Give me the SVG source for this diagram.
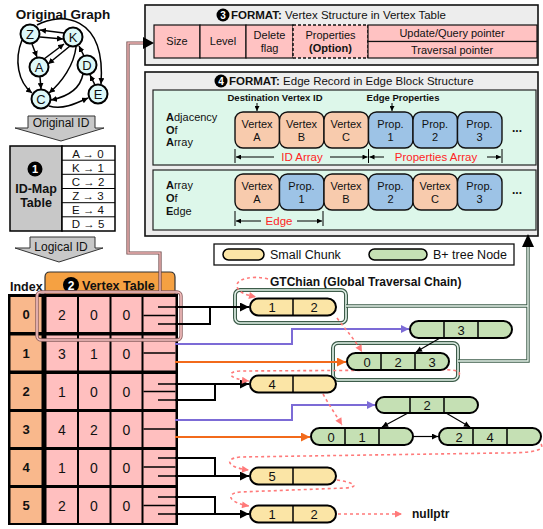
<svg xmlns="http://www.w3.org/2000/svg" width="543" height="529" viewBox="0 0 543 529">
<defs>
<marker id="ag" viewBox="0 0 10 10" refX="10" refY="5" markerUnits="userSpaceOnUse" markerWidth="6" markerHeight="6" orient="auto"><path d="M0,0 L10,5 L0,10 z" fill="#000"/></marker>
<marker id="ab" viewBox="0 0 10 10" refX="10" refY="5" markerUnits="userSpaceOnUse" markerWidth="10" markerHeight="9" orient="auto"><path d="M0,0 L10,5 L0,10 z" fill="#000"/></marker>
<marker id="as" viewBox="0 0 10 10" refX="10" refY="5" markerUnits="userSpaceOnUse" markerWidth="7" markerHeight="6" orient="auto"><path d="M0,0 L10,5 L0,10 z" fill="#000"/></marker>
<marker id="ap" viewBox="0 0 10 10" refX="10" refY="5" markerUnits="userSpaceOnUse" markerWidth="8" markerHeight="7" orient="auto"><path d="M0,0 L10,5 L0,10 z" fill="#FF7A7A"/></marker>
<marker id="apu" viewBox="0 0 10 10" refX="10" refY="5" markerUnits="userSpaceOnUse" markerWidth="9" markerHeight="8" orient="auto"><path d="M0,0 L10,5 L0,10 z" fill="#7C6BD6"/></marker>
<marker id="aor" viewBox="0 0 10 10" refX="10" refY="5" markerUnits="userSpaceOnUse" markerWidth="10" markerHeight="9" orient="auto"><path d="M0,0 L10,5 L0,10 z" fill="#F26A1B"/></marker>
<marker id="ad" viewBox="0 0 10 10" refX="10" refY="5" markerUnits="userSpaceOnUse" markerWidth="6" markerHeight="5" orient="auto-start-reverse"><path d="M0,0 L10,5 L0,10 z" fill="#000"/></marker>
</defs>
<style>
text{font-family:"Liberation Sans",Arial,sans-serif;fill:#111}
.b{font-weight:bold}
.gn{fill:#DDF8F8;stroke:#000;stroke-width:2}
.ge{fill:none;stroke:#000;stroke-width:1.5;marker-end:url(#ag)}
.gt{font-size:13px;text-anchor:middle}
.fbox{fill:#EDEDED;stroke:#111;stroke-width:1.6}
.pc{fill:#FFC2C2;stroke:#111;stroke-width:1.2}
.pnl{fill:#DDF7EA;stroke:#222;stroke-width:1.2}
.vc{fill:#F8CBAD;stroke:#111;stroke-width:1.4}
.bc{fill:#9DC3E6;stroke:#111;stroke-width:1.4}
.ct{font-size:11px;text-anchor:middle}
.red{fill:#FF2525;font-size:11.5px;text-anchor:middle}
.dim{stroke:#000;stroke-width:1;fill:none;marker-end:url(#ad)}
.tk{stroke:#000;stroke-width:1}
.ix{fill:#F9B88C}
.vv{fill:#FFBFBF}
.num{font-size:14px;text-anchor:middle}
.ixt{font-size:13px;font-weight:bold;text-anchor:middle}
.sc{fill:#FBE5A6;stroke:#000;stroke-width:2}
.bn{fill:#C5E0B4;stroke:#000;stroke-width:2}
.dv{stroke:#000;stroke-width:1.5}
.cn{font-size:13px;text-anchor:middle}
.bl{fill:none;stroke:#000;stroke-width:2}
.pu{fill:none;stroke:#7C6BD6;stroke-width:2}
.or{fill:none;stroke:#F26A1B;stroke-width:2}
.dot{fill:none;stroke:#FF7A7A;stroke-width:1.6;stroke-dasharray:3 3}
.dbo{fill:none;stroke:#3D5C4A;stroke-width:4}
.dbi{fill:none;stroke:#E4F3EA;stroke-width:1.6}
</style>

<!-- Original graph -->
<g id="original-graph">
<text x="63" y="19" class="b" style="font-size:13.5px" text-anchor="middle">Original Graph</text>
<path class="ge" d="M64 33 L40 30"/>
<path class="ge" d="M40 37 L63 39"/>
<path class="ge" d="M37 25 C60 12, 106 14, 101 84"/>
<path class="ge" d="M32 44 L37 57"/>
<path class="ge" d="M22 40 C14 60, 18 82, 32 93"/>
<path class="ge" d="M44 59 L64 44"/>
<path class="ge" d="M70 46 L48 64"/>
<path class="ge" d="M40 77 L41 89"/>
<path class="ge" d="M76 47 C74 65, 62 82, 49 93"/>
<path class="ge" d="M84 56 L79 46"/>
<path class="ge" d="M83 74 C80 90, 66 97, 51 100"/>
<path class="ge" d="M49 106 C62 110, 75 104, 88 98"/>
<path class="ge" d="M95 85 L90 75"/>
<circle class="gn" cx="30" cy="34" r="9.5"/><text class="gt" x="30" y="38.5">Z</text>
<circle class="gn" cx="73" cy="37" r="9.5"/><text class="gt" x="73" y="41.5">K</text>
<circle class="gn" cx="39" cy="67" r="9.5"/><text class="gt" x="39" y="71.5">A</text>
<circle class="gn" cx="87" cy="65" r="9.5"/><text class="gt" x="87" y="69.5">D</text>
<circle class="gn" cx="41" cy="99" r="9.5"/><text class="gt" x="41" y="103.5">C</text>
<circle class="gn" cx="98" cy="94" r="9.5"/><text class="gt" x="98" y="98.5">E</text>
</g>

<g id="original-id-arrow">
<path d="M28 116 H95 V128 H104 L61 141 L15 128 H28 Z" fill="#C8C8C8" stroke="#333" stroke-width="1"/>
<text x="61" y="127" style="font-size:12px" text-anchor="middle">Original ID</text>
</g>

<g id="id-map-table">
<rect x="10" y="146" width="52" height="85" fill="#C8C8C8" stroke="#000" stroke-width="1.5"/>
<circle cx="35" cy="169" r="7.5" fill="#000"/>
<text x="35" y="173" class="b" style="font-size:11px;fill:#fff" text-anchor="middle">1</text>
<text x="36" y="193" class="b" style="font-size:12.5px" text-anchor="middle">ID-Map</text>
<text x="36" y="207" class="b" style="font-size:12.5px" text-anchor="middle">Table</text>
<rect x="62" y="146" width="53" height="85" fill="#fff" stroke="#000" stroke-width="1.5"/>
<path d="M62 160.2 H115 M62 174.3 H115 M62 188.5 H115 M62 202.7 H115 M62 216.8 H115" stroke="#000" stroke-width="1"/>
<g style="font-size:11.5px" text-anchor="middle">
<text x="88" y="157.5">A → 0</text>
<text x="88" y="171.5">K → 1</text>
<text x="88" y="185.7">C → 2</text>
<text x="88" y="199.9">Z → 3</text>
<text x="88" y="214">E → 4</text>
<text x="88" y="228.2">D → 5</text>
</g>
</g>

<g id="logical-id-arrow">
<path d="M30 237 H95 V248 H103 L59 262 L15 248 H30 Z" fill="#C8C8C8" stroke="#333" stroke-width="1"/>
<text x="61" y="251" style="font-size:12px" text-anchor="middle">Logical ID</text>
</g>

<!-- Format 3 -->
<g id="format-vertex-structure">
<rect class="fbox" x="145" y="5" width="393" height="60"/>
<circle cx="223" cy="15" r="6.5" fill="#000"/>
<text x="223" y="18.8" class="b" style="font-size:10px;fill:#fff" text-anchor="middle">3</text>
<text x="231" y="19" style="font-size:11.5px"><tspan class="b">FORMAT:</tspan> Vertex Structure in Vertex Table</text>
<rect class="pc" x="154" y="25" width="46" height="33"/>
<rect class="pc" x="200" y="25" width="46" height="33"/>
<rect class="pc" x="246" y="25" width="47" height="33"/>
<rect class="pc" x="293" y="25" width="75" height="33" style="stroke-dasharray:3 2;stroke-width:1.5"/>
<rect class="pc" x="368" y="25" width="169" height="16.5"/>
<rect class="pc" x="368" y="41.5" width="169" height="16.5"/>
<text class="ct" x="177" y="45">Size</text>
<text class="ct" x="223" y="45">Level</text>
<text class="ct" x="269.5" y="39">Delete</text>
<text class="ct" x="269.5" y="52">flag</text>
<text class="ct" x="330.5" y="39">Properties</text>
<text class="ct b" x="330.5" y="52">(Option)</text>
<text class="ct" x="452" y="37">Update/Query pointer</text>
<text class="ct" x="452" y="53.5">Traversal pointer</text>
</g>

<!-- Format 4 -->
<g id="format-edge-record">
<rect class="fbox" x="145" y="72" width="393" height="164"/>
<circle cx="221" cy="81" r="6.5" fill="#000"/>
<text x="221" y="84.8" class="b" style="font-size:10px;fill:#fff" text-anchor="middle">4</text>
<text x="229" y="85" style="font-size:11.5px"><tspan class="b">FORMAT:</tspan> Edge Record in Edge Block Structure</text>
<rect class="pnl" x="153" y="90" width="383" height="75"/>
<rect class="pnl" x="153" y="170" width="383" height="60"/>
<text x="166" y="121" style="font-size:11px"><tspan class="b">A</tspan>djacency</text>
<text x="166" y="134" style="font-size:11px"><tspan class="b">O</tspan>f</text>
<text x="166" y="146" style="font-size:11px"><tspan class="b">A</tspan>rray</text>
<text x="275" y="101" class="b" style="font-size:9.5px" text-anchor="middle">Destination Vertex ID</text>
<text x="403" y="101" class="b" style="font-size:9.5px" text-anchor="middle">Edge Properties</text>
<path d="M257 103 V111" stroke="#000" stroke-width="1" marker-end="url(#ad)"/>
<path d="M392 103 V111" stroke="#000" stroke-width="1" marker-end="url(#ad)"/>
<rect class="vc" x="235" y="112" width="44.5" height="36" rx="8"/>
<rect class="vc" x="279.5" y="112" width="44.5" height="36" rx="8"/>
<rect class="vc" x="324" y="112" width="44.5" height="36" rx="8"/>
<rect class="bc" x="368.5" y="112" width="44.5" height="36" rx="8"/>
<rect class="bc" x="413" y="112" width="44.5" height="36" rx="8"/>
<rect class="bc" x="457.5" y="112" width="44.5" height="36" rx="8"/>
<text class="ct" x="257" y="128">Vertex</text><text class="ct" x="257" y="141">A</text>
<text class="ct" x="301.5" y="128">Vertex</text><text class="ct" x="301.5" y="141">B</text>
<text class="ct" x="346" y="128">Vertex</text><text class="ct" x="346" y="141">C</text>
<text class="ct" x="390.5" y="128">Prop.</text><text class="ct" x="390.5" y="141">1</text>
<text class="ct" x="435" y="128">Prop.</text><text class="ct" x="435" y="141">2</text>
<text class="ct" x="479.5" y="128">Prop.</text><text class="ct" x="479.5" y="141">3</text>
<text class="b" x="517" y="132" style="font-size:12px" text-anchor="middle">...</text>
<path class="tk" d="M235 149 V163 M368.5 149 V163 M502 149 V163"/>
<path class="dim" d="M274 157 H236"/>
<path class="dim" d="M330 157 H367.5"/>
<text class="red" x="302" y="161">ID Array</text>
<path class="dim" d="M384 157 H369.5"/>
<path class="dim" d="M487 157 H501"/>
<text class="red" x="436" y="161">Properties Array</text>
<text x="166" y="189" style="font-size:11px"><tspan class="b">A</tspan>rray</text>
<text x="166" y="202" style="font-size:11px"><tspan class="b">O</tspan>f</text>
<text x="166" y="215" style="font-size:11px"><tspan class="b">E</tspan>dge</text>
<rect class="vc" x="235" y="174" width="44.5" height="36" rx="8"/>
<rect class="bc" x="279.5" y="174" width="44.5" height="36" rx="8"/>
<rect class="vc" x="324" y="174" width="44.5" height="36" rx="8"/>
<rect class="bc" x="368.5" y="174" width="44.5" height="36" rx="8"/>
<rect class="vc" x="413" y="174" width="44.5" height="36" rx="8"/>
<rect class="bc" x="457.5" y="174" width="44.5" height="36" rx="8"/>
<text class="ct" x="257" y="190">Vertex</text><text class="ct" x="257" y="203">A</text>
<text class="ct" x="301.5" y="190">Prop.</text><text class="ct" x="301.5" y="203">1</text>
<text class="ct" x="346" y="190">Vertex</text><text class="ct" x="346" y="203">B</text>
<text class="ct" x="390.5" y="190">Prop.</text><text class="ct" x="390.5" y="203">2</text>
<text class="ct" x="435" y="190">Vertex</text><text class="ct" x="435" y="203">C</text>
<text class="ct" x="479.5" y="190">Prop.</text><text class="ct" x="479.5" y="203">3</text>
<text class="b" x="517" y="194" style="font-size:12px" text-anchor="middle">...</text>
<path class="tk" d="M235 211 V226 M323 211 V226"/>
<path class="dim" d="M261 221 H236"/>
<path class="dim" d="M297 221 H322"/>
<text class="red" x="279" y="225">Edge</text>
</g>

<!-- Legend -->
<g id="legend">
<rect x="214" y="244" width="300" height="21" fill="#fff" stroke="#111" stroke-width="1.3"/>
<rect x="223" y="249" width="41" height="11" rx="5.5" class="sc" style="stroke-width:1.5"/>
<text x="270" y="259" style="font-size:12.5px">Small Chunk</text>
<rect x="369" y="249" width="58" height="11" rx="5.5" class="bn" style="stroke-width:1.5"/>
<text x="433" y="259" style="font-size:12.5px">B+ tree Node</text>
</g>

<text x="270" y="286" class="b" style="font-size:12px">GTChian (Global Traversal Chain)</text>

<!-- Vertex table -->
<g id="vertex-table">
<text x="10" y="291" class="b" style="font-size:12.5px">Index</text>
<path d="M45 297 V277 Q45 272 50 272 H170 Q175 272 175 277 V297 Z" fill="#F5A142" stroke="#333" stroke-width="1.2"/>
<circle cx="71" cy="285" r="8" fill="#000"/>
<text x="71" y="289.5" class="b" style="font-size:12px;fill:#fff" text-anchor="middle">2</text>
<text x="82" y="290" class="b" style="font-size:12.5px">Vertex Table</text>
<rect x="8" y="294" width="170" height="231" fill="#000"/>
<g id="row-0">
<rect class="ix" x="10.5" y="297" width="31" height="35"/>
<rect class="vv" x="46.5" y="297" width="30.5" height="35"/><rect class="vv" x="79" y="297" width="30.5" height="35"/><rect class="vv" x="111.5" y="297" width="30" height="35"/><rect class="vv" x="143.5" y="297" width="32" height="35"/>
<text class="ixt" x="26" y="319">0</text><text class="num" x="62" y="320">2</text><text class="num" x="94" y="320">0</text><text class="num" x="126.5" y="320">0</text>
<path class="dv" d="M143.5 315.5 H175.5 M158 307 H175.5 M158 324 H175.5"/>
</g>
<g id="row-1">
<rect class="ix" x="10.5" y="335.5" width="31" height="35"/>
<rect class="vv" x="46.5" y="335.5" width="30.5" height="35"/><rect class="vv" x="79" y="335.5" width="30.5" height="35"/><rect class="vv" x="111.5" y="335.5" width="30" height="35"/><rect class="vv" x="143.5" y="335.5" width="32" height="35"/>
<text class="ixt" x="26" y="357.5">1</text><text class="num" x="62" y="358.5">3</text><text class="num" x="94" y="358.5">1</text><text class="num" x="126.5" y="358.5">0</text>
<path class="dv" d="M143.5 353 H175.5"/>
</g>
<g id="row-2">
<rect class="ix" x="10.5" y="374" width="31" height="35"/>
<rect class="vv" x="46.5" y="374" width="30.5" height="35"/><rect class="vv" x="79" y="374" width="30.5" height="35"/><rect class="vv" x="111.5" y="374" width="30" height="35"/><rect class="vv" x="143.5" y="374" width="32" height="35"/>
<text class="ixt" x="26" y="396">2</text><text class="num" x="62" y="397">1</text><text class="num" x="94" y="397">0</text><text class="num" x="126.5" y="397">0</text>
<path class="dv" d="M143.5 391.5 H175.5 M158 384 H175.5 M158 400 H175.5"/>
</g>
<g id="row-3">
<rect class="ix" x="10.5" y="412" width="31" height="35"/>
<rect class="vv" x="46.5" y="412" width="30.5" height="35"/><rect class="vv" x="79" y="412" width="30.5" height="35"/><rect class="vv" x="111.5" y="412" width="30" height="35"/><rect class="vv" x="143.5" y="412" width="32" height="35"/>
<text class="ixt" x="26" y="434">3</text><text class="num" x="62" y="435">4</text><text class="num" x="94" y="435">2</text><text class="num" x="126.5" y="435">0</text>
<path class="dv" d="M143.5 429 H175.5"/>
</g>
<g id="row-4">
<rect class="ix" x="10.5" y="450" width="31" height="35"/>
<rect class="vv" x="46.5" y="450" width="30.5" height="35"/><rect class="vv" x="79" y="450" width="30.5" height="35"/><rect class="vv" x="111.5" y="450" width="30" height="35"/><rect class="vv" x="143.5" y="450" width="32" height="35"/>
<text class="ixt" x="26" y="472">4</text><text class="num" x="62" y="473">1</text><text class="num" x="94" y="473">0</text><text class="num" x="126.5" y="473">0</text>
<path class="dv" d="M143.5 467 H175.5 M158 458 H175.5 M158 476 H175.5"/>
</g>
<g id="row-5">
<rect class="ix" x="10.5" y="488" width="31" height="35"/>
<rect class="vv" x="46.5" y="488" width="30.5" height="35"/><rect class="vv" x="79" y="488" width="30.5" height="35"/><rect class="vv" x="111.5" y="488" width="30" height="35"/><rect class="vv" x="143.5" y="488" width="32" height="35"/>
<text class="ixt" x="26" y="510">5</text><text class="num" x="62" y="511">2</text><text class="num" x="94" y="511">0</text><text class="num" x="126.5" y="511">0</text>
<path class="dv" d="M143.5 505.5 H175.5 M158 497 H175.5 M158 514 H175.5"/>
</g>
<rect x="37" y="292" width="144" height="48" rx="4" fill="none" stroke="#8A6060" stroke-width="3.4"/>
<rect x="37" y="292" width="144" height="48" rx="4" fill="none" stroke="#F6C0C0" stroke-width="1.6"/>
</g>

<!-- Double-outline boxes -->
<g id="gtc-box-0">
<rect class="dbo" x="235" y="290" width="111" height="33" rx="5"/>
<rect class="dbi" x="235" y="290" width="111" height="33" rx="5"/>
</g>
<g id="gtc-box-1">
<rect class="dbo" x="333" y="343" width="125" height="37" rx="5"/>
<rect class="dbi" x="333" y="343" width="125" height="37" rx="5"/>
</g>

<!-- Connectors -->
<g id="connectors">
<path d="M160 291 V253 H128 V43 H144" fill="none" stroke="#6E4A4A" stroke-width="3.2"/>
<path d="M160 291 V253 H128 V43 H144" fill="none" stroke="#F4B8B8" stroke-width="1.4"/>
<polygon points="143,37 154,43 143,49" fill="#000"/>
<path d="M346 306 H528 M458 361 H528 V246" fill="none" stroke="#3D5C4A" stroke-width="3.4"/>
<path d="M346 306 H528 M458 361 H528 V246" fill="none" stroke="#E8F4EC" stroke-width="1.4"/>
<polygon points="522,247 534,247 528,234" fill="#000"/>

<path class="bl" d="M175 307 H249" marker-end="url(#ab)"/>
<path class="bl" d="M175 324 H210 V307"/>
<path class="pu" d="M175 344 H292 V329 H409" marker-end="url(#apu)"/>
<path class="or" d="M175 362 H346" marker-end="url(#aor)"/>
<path class="bl" d="M175 384 H249" marker-end="url(#ab)"/>
<path class="bl" d="M175 400 H215 V384"/>
<path class="pu" d="M175 420 H292 V405 H375" marker-end="url(#apu)"/>
<path class="or" d="M175 437 H310" marker-end="url(#aor)"/>
<path class="bl" d="M175 458 H215 V476"/>
<path class="bl" d="M175 476 H249" marker-end="url(#ab)"/>
<path class="bl" d="M175 497 H215 V514"/>
<path class="bl" d="M175 514 H249" marker-end="url(#ab)"/>

<path d="M440 338 L416 352" stroke="#000" stroke-width="1.2" marker-end="url(#as)"/>
<path d="M408 413 L382 427" stroke="#000" stroke-width="1.2" marker-end="url(#as)"/>
<path d="M446 413 L470 427" stroke="#000" stroke-width="1.2" marker-end="url(#as)"/>
<path d="M413 436.5 L438 436.5" stroke="#000" stroke-width="1.2" marker-end="url(#as)"/>

<path class="dot" d="M268 279 C252 275, 236 279, 237 286 C238 293, 247 295, 256 297" marker-end="url(#ap)"/>
<path class="dot" d="M337 318 C346 330, 355 340, 362 352" marker-end="url(#ap)"/>
<path class="dot" d="M459 375 C463 368, 440 370, 420 370 L240 371 C224 372, 230 379, 249 381" marker-end="url(#ap)"/>
<path class="dot" d="M323 394 C329 405, 336 415, 342 425" marker-end="url(#ap)"/>
<path class="dot" d="M541 444 C546 452, 525 453, 500 453 L240 457 C222 459, 229 468, 249 470" marker-end="url(#ap)"/>
<path class="dot" d="M337 480 C352 482, 362 487, 345 488 L240 492 C224 494, 230 503, 249 506" marker-end="url(#ap)"/>
<path class="dot" d="M338 514 H402" marker-end="url(#ap)"/>
</g>

<!-- Chunks and B+ nodes -->
<g id="chunk-0">
<rect class="sc" x="250" y="298.5" width="86" height="17" rx="8.5"/>
<path class="dv" d="M293 298.5 V315.5"/>
<text class="cn" x="272" y="312">1</text><text class="cn" x="314" y="312">2</text>
</g>
<g id="bnode-3">
<rect class="bn" x="410" y="321" width="102" height="17" rx="8.5"/>
<path class="dv" d="M444 321 V338 M478 321 V338"/>
<text class="cn" x="461" y="334.5">3</text>
</g>
<g id="bnode-023">
<rect class="bn" x="347" y="353" width="102" height="17" rx="8.5"/>
<path class="dv" d="M381 353 V370 M415 353 V370"/>
<text class="cn" x="367" y="366.5">0</text><text class="cn" x="398" y="366.5">2</text><text class="cn" x="432" y="366.5">3</text>
</g>
<g id="chunk-2">
<rect class="sc" x="250" y="375.5" width="86" height="17" rx="8.5"/>
<path class="dv" d="M293 375.5 V392.5"/>
<text class="cn" x="272" y="389">4</text>
</g>
<g id="bnode-2">
<rect class="bn" x="376" y="397" width="102" height="16" rx="8"/>
<path class="dv" d="M410 397 V413 M444 397 V413"/>
<text class="cn" x="427" y="410">2</text>
</g>
<g id="bnode-01">
<rect class="bn" x="311" y="428" width="102" height="17" rx="8.5"/>
<path class="dv" d="M345 428 V445 M379 428 V445"/>
<text class="cn" x="331" y="441.5">0</text><text class="cn" x="362" y="441.5">1</text>
</g>
<g id="bnode-24">
<rect class="bn" x="439" y="428" width="102" height="17" rx="8.5"/>
<path class="dv" d="M473 428 V445 M507 428 V445"/>
<text class="cn" x="459" y="441.5">2</text><text class="cn" x="490" y="441.5">4</text>
</g>
<g id="chunk-4">
<rect class="sc" x="250" y="467.5" width="86" height="17" rx="8.5"/>
<path class="dv" d="M293 467.5 V484.5"/>
<text class="cn" x="272" y="481">5</text>
</g>
<g id="chunk-5">
<rect class="sc" x="250" y="505.5" width="86" height="17" rx="8.5"/>
<path class="dv" d="M293 505.5 V522.5"/>
<text class="cn" x="272" y="519">1</text><text class="cn" x="314" y="519">2</text>
</g>
<text x="412" y="518" class="b" style="font-size:12px">nullptr</text>
</svg>
